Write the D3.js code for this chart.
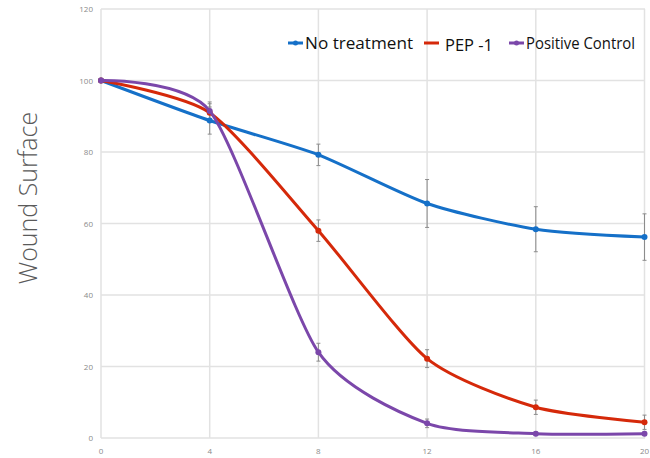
<!DOCTYPE html>
<html>
<head>
<meta charset="utf-8">
<script src="https://cdn.jsdelivr.net/npm/d3@7"></script>
<style>
  body { margin: 0; background: #fff; }
  svg { display: block; font-family: "Open Sans", sans-serif; }
</style>
</head>
<body>
<div id="chart"></div>
<script>
// days
const days = [0, 4, 8, 12, 16, 20];
const seriesNames = ["No treatment", "PEP -1", "Positive Control"];
const noTreatment = [100, 88.8, 79.2, 65.6, 58.4, 56.2];
const noTreatmentErr = [0, 3.8, 3, 6.7, 6.3, 6.5];
const pep1 = [100, 91, 58, 22.2, 8.6, 4.4];
const pep1Err = [0, 2.5, 3, 2.5, 2, 2];
const posControl = [100, 91.5, 24, 4.1, 1.2, 1.2];
const posControlErr = [0, 2.5, 2.5, 1.2, 0.5, 0.5];
const yTicks = [0, 20, 40, 60, 80, 100, 120];

const width = 650, height = 458;
const margin = { top: 9, right: 5, bottom: 20, left: 101 };
const w = width - margin.left - margin.right;
const h = height - margin.top - margin.bottom;

const svg = d3.select("#chart").append("svg")
    .attr("width", width)
    .attr("height", height);

const g = svg.append("g")
    .attr("transform", `translate(${margin.left},${margin.top})`);

const x = d3.scaleLinear().domain([0, 20]).range([0, w - 0.5]);
const y = d3.scaleLinear().domain([0, 120]).range([h, 0]);

// grid
g.append("g").selectAll("line")
    .data(yTicks)
    .enter().append("line")
    .attr("x1", 0).attr("x2", w)
    .attr("y1", d => y(d)).attr("y2", d => y(d))
    .attr("stroke", "#e2e2e2").attr("stroke-width", 1.5);

g.append("g").selectAll("line")
    .data(days)
    .enter().append("line")
    .attr("x1", d => x(d)).attr("x2", d => x(d))
    .attr("y1", 0).attr("y2", h)
    .attr("stroke", "#e2e2e2").attr("stroke-width", 1.5);

// tick labels
g.append("g").selectAll("text")
    .data(yTicks)
    .enter().append("text")
    .attr("x", -8)
    .attr("y", d => y(d) + 3)
    .attr("text-anchor", "end")
    .style("font-size", "8px")
    .style("fill", "#8a8a8a")
    .text(d => d);

g.append("g").selectAll("text")
    .data(days)
    .enter().append("text")
    .attr("x", d => x(d))
    .attr("y", h + 16)
    .attr("text-anchor", "middle")
    .style("font-size", "8px")
    .style("fill", "#8a8a8a")
    .text(d => d);

// y title
svg.append("text")
    .attr("transform", `translate(37, 198) rotate(-90)`)
    .attr("text-anchor", "middle")
    .style("font-size", "25px")
    .style("font-weight", 300)
    .style("fill", "#5a5a5a")
    .text("Wound Surface");

const color = d3.scaleOrdinal()
    .domain(seriesNames)
    .range(["#1570c8", "#d5290a", "#7b47aa"]);

const series = [
    { name: seriesNames[0], values: noTreatment, err: noTreatmentErr },
    { name: seriesNames[1], values: pep1, err: pep1Err },
    { name: seriesNames[2], values: posControl, err: posControlErr }
];

const line = d3.line()
    .x((d, i) => x(days[i]))
    .y(d => y(d))
    .curve(d3.curveCardinal.tension(0.3));

// error bars
series.forEach(s => {
    const eb = g.append("g").attr("stroke", "#8c8c8c").attr("stroke-width", 1);
    s.values.forEach((v, i) => {
        if (!s.err[i]) return;
        const cx = x(days[i]);
        eb.append("line").attr("x1", cx).attr("x2", cx)
            .attr("y1", y(v + s.err[i])).attr("y2", y(v - s.err[i]));
        eb.append("line").attr("x1", cx - 2).attr("x2", cx + 2)
            .attr("y1", y(v + s.err[i])).attr("y2", y(v + s.err[i]));
        eb.append("line").attr("x1", cx - 2).attr("x2", cx + 2)
            .attr("y1", y(v - s.err[i])).attr("y2", y(v - s.err[i]));
    });
});

// lines + markers
series.forEach(s => {
    g.append("path")
        .datum(s.values)
        .attr("d", line)
        .attr("fill", "none")
        .attr("stroke", color(s.name))
        .attr("stroke-width", 3);

    g.append("g").selectAll("circle")
        .data(s.values)
        .enter().append("circle")
        .attr("cx", (d, i) => x(days[i]))
        .attr("cy", d => y(d))
        .attr("r", 3)
        .attr("fill", color(s.name));
});

// legend
const legendPos = [288, 424, 509];
const legendTextW = [108, 48, 109];
const legend = svg.append("g");
seriesNames.forEach((name, i) => {
    const lx = legendPos[i];
    legend.append("line")
        .attr("x1", lx).attr("x2", lx + 15)
        .attr("y1", 43).attr("y2", 43)
        .attr("stroke", color(name)).attr("stroke-width", 3);
    if (i !== 1) {
        legend.append("circle")
            .attr("cx", lx + 7.5).attr("cy", 43).attr("r", 2.5)
            .attr("fill", color(name));
    }
    legend.append("text")
        .attr("x", lx + (i === 1 ? 21 : 17))
        .attr("y", i === 1 ? 51 : 49)
        .attr("textLength", legendTextW[i])
        .attr("lengthAdjust", "spacingAndGlyphs")
        .style("font-size", "17px")
        .style("fill", "#111")
        .text(name);
});
</script>
</body>
</html>
